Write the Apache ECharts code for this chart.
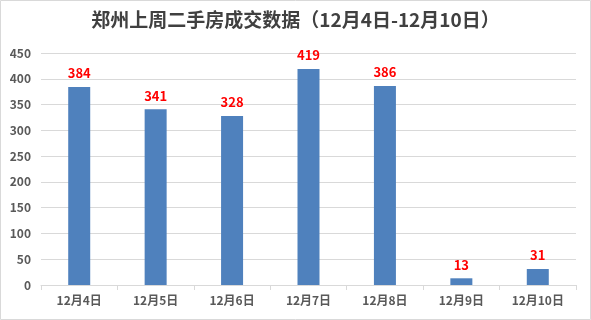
<!DOCTYPE html>
<html><head><meta charset="utf-8">
<script src="https://cdn.jsdelivr.net/npm/echarts@6/dist/echarts.min.js"></script>
<style>html,body{margin:0;padding:0;background:#fff}#c{width:591px;height:320px}</style>
</head><body><div id="c"></div>
<script>
const categories = ['12月4日','12月5日','12月6日','12月7日','12月8日','12月9日','12月10日'];
const values = [384, 341, 328, 419, 386, 13, 31];
const titleText = '郑州上周二手房成交数据（12月4日-12月10日）';
const font = '"Noto Sans CJK SC","Microsoft YaHei",sans-serif';
const chart = echarts.init(document.getElementById('c'));
chart.setOption({
  animation: false,
  title: {text: titleText, left: 'center', top: 5,
    textStyle: {fontFamily: font, fontSize: 19, fontWeight: 'bold', color: '#404040'}},
  graphic: [{type: 'rect', shape: {x: 0.5, y: 0.5, width: 590, height: 319},
    style: {fill: 'none', stroke: '#d9d9d9', lineWidth: 1}, silent: true}],
  grid: {left: 41, right: 15, top: 53, bottom: 35},
  xAxis: {type: 'category', data: categories,
    axisLine: {lineStyle: {color: '#d9d9d9'}},
    axisTick: {show: true, length: 5, lineStyle: {color: '#d9d9d9'}},
    axisLabel: {fontFamily: font, fontSize: 12, fontWeight: 'bold', color: '#595959', margin: 9}},
  yAxis: {type: 'value', min: 0, max: 450, interval: 50,
    axisLine: {show: false}, axisTick: {show: false},
    splitLine: {lineStyle: {color: '#d9d9d9'}},
    axisLabel: {fontFamily: font, fontSize: 12, fontWeight: 'bold', color: '#595959', margin: 10}},
  series: [{type: 'bar', data: values, barWidth: 22,
    itemStyle: {color: '#4f81bd'},
    label: {show: true, position: 'top', distance: 7, color: '#ff0000',
      fontFamily: font, fontSize: 13, fontWeight: 'bold'}}]
});
</script></body></html>
